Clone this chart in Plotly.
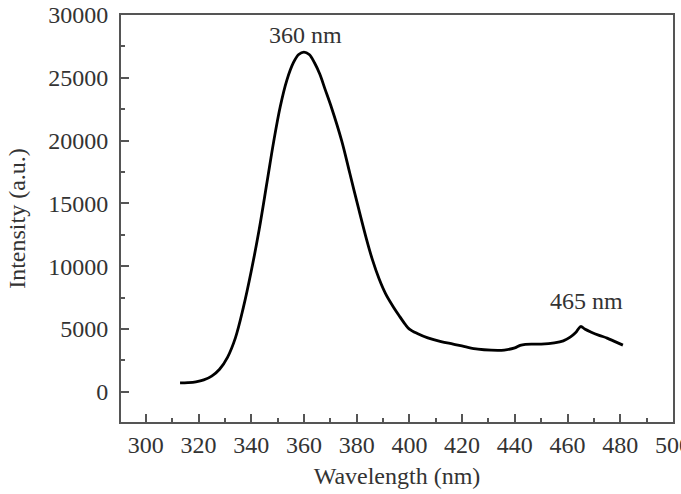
import plotly.graph_objects as go

# Photoluminescence spectrum
wavelength = [313, 316, 319, 322, 325, 328, 331, 334, 337, 340, 343, 346, 348.5, 351,
              353.5, 356, 358, 360, 362, 364, 366, 368, 370.5, 374.3, 377.4, 380.6,
              383.8, 386, 388.5, 391, 393.5, 396, 398.5, 400, 403, 407, 412, 416.6,
              421, 426, 431, 436, 440, 442, 444, 450, 455, 458.4, 461, 463, 465,
              466.5, 469, 472, 475, 478, 481]
intensity = [720, 740, 800, 950, 1250, 1800, 2750, 4300, 6700, 9600, 12900, 16700,
             19900, 22700, 24800, 26200, 26850, 27050, 26850, 26200, 25300, 24100,
             22600, 20000, 17400, 14700, 12100, 10500, 9000, 7800, 6900, 6100, 5350,
             5000, 4650, 4300, 4000, 3800, 3600, 3400, 3320, 3330, 3500, 3700, 3780,
             3800, 3900, 4060, 4350, 4700, 5200, 5000, 4750, 4500, 4280, 4000, 3720]

peak_labels = ["360 nm", "465 nm"]
peak_x = [360.7, 467.0]
peak_y = [28400, 7260]

xticks = [300, 320, 340, 360, 380, 400, 420, 440, 460, 480, 500]
yticks = [0, 5000, 10000, 15000, 20000, 25000, 30000]

FONT = "Liberation Serif"
TXT = "#333333"
AX = "#555555"
FS = 24

fig = go.Figure()
fig.add_trace(go.Scatter(x=wavelength, y=intensity, mode="lines",
                         line=dict(color="black", width=2.8, shape="spline", smoothing=1.0),
                         showlegend=False, hoverinfo="skip"))

for t, x, y in zip(peak_labels, peak_x, peak_y):
    fig.add_annotation(x=x, y=y, text=t, showarrow=False,
                       font=dict(family=FONT, size=FS, color=TXT))

axis_common = dict(showgrid=False, zeroline=False, showline=True, linecolor=AX,
                   linewidth=2, mirror=True, ticks="inside", tickcolor=AX,
                   tickwidth=2, ticklen=8, ticklabeloverflow="allow", automargin=False,
                   tickfont=dict(family=FONT, size=FS, color=TXT))

fig.update_xaxes(range=[290.6, 500], tickvals=xticks, ticktext=[str(v) for v in xticks],
                 title=dict(text="Wavelength (nm)", font=dict(family=FONT, size=FS, color=TXT), standoff=10),
                 minor=dict(ticks="inside", dtick=10, tick0=300, ticklen=4, tickwidth=2, tickcolor=AX),
                 **axis_common)
fig.update_yaxes(range=[-2400, 30000], tickvals=yticks, ticktext=[str(v) for v in yticks],
                 ticklabelstandoff=6,
                 title=dict(text="Intensity (a.u.)", font=dict(family=FONT, size=FS, color=TXT), standoff=16),
                 minor=dict(ticks="inside", dtick=2500, tick0=0, ticklen=4, tickwidth=2, tickcolor=AX),
                 **axis_common)

fig.update_layout(width=681, height=494, margin=dict(l=121, r=8, t=15, b=72),
                  plot_bgcolor="white", paper_bgcolor="white")

fig.write_html("out.html")
